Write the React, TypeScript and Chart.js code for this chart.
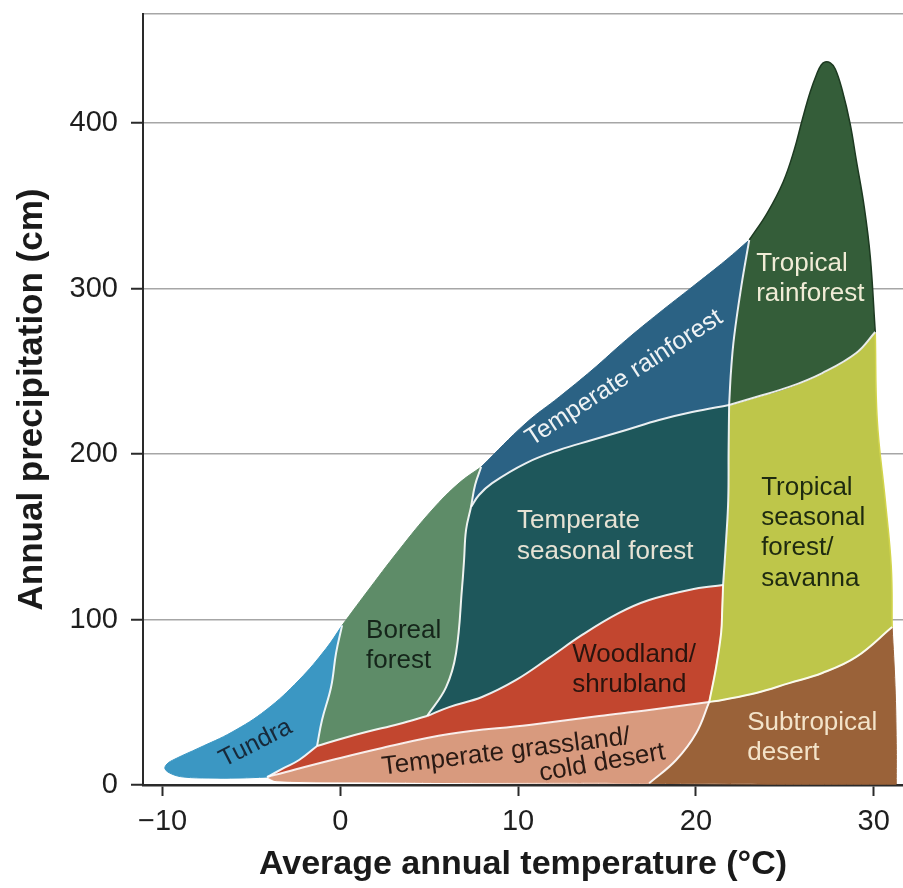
import React, { useEffect, useRef } from "react";
import { Chart, registerables } from "chart.js";

Chart.register(...registerables);

type P = [number, number];

// ---------- axes ----------
const xTickValues = [-10, 0, 10, 20, 30];
const yTickValues = [0, 100, 200, 300, 400];
const xRange = [-11.1, 31.65];
const yRange = [0, 466];
const xTitle = "Average annual temperature (°C)";
const yTitle = "Annual precipitation (cm)";

// ---------- biome boundary curves: [temperature °C, precipitation cm] ----------
const tundraOuter: P[] = [[-4.12, 4.8], [-5.7, 4.2], [-7.39, 4.2], [-8.8, 4.8], [-9.47, 6.6], [-9.86, 9.7], [-9.75, 12.7], [-9.3, 15.7], [-7.95, 22.4], [-6.09, 32.0], [-4.18, 45.3], [-2.32, 63.5], [-0.8, 82.5], [0.1, 96.5]];
const tundraBoreal: P[] = [[0.1, 96.5], [-0.24, 79.8], [-0.52, 59.2], [-1.03, 39.3], [-1.31, 23.6]];
const redTundra: P[] = [[-1.31, 23.6], [-2.32, 15.1], [-3.17, 10.3], [-4.12, 4.8]];
const borealOuter: P[] = [[0.1, 96.5], [1.45, 116.0], [3.3, 142.0], [5.16, 166.2], [6.68, 182.5], [7.92, 192.2]];
const borealTempRF: P[] = [[7.92, 192.2], [7.58, 181.3], [7.35, 168.0]];
const borealSeasonal: P[] = [[7.35, 168.0], [7.07, 154.1], [6.96, 136.0], [6.85, 119.7], [6.51, 79.8], [5.95, 59.2], [4.88, 41.7]];
const redBoreal: P[] = [[-1.31, 23.6], [0.21, 28.4], [1.45, 32.0], [3.3, 36.9], [4.88, 41.7]];
const redSeasonal: P[] = [[4.88, 41.7], [6.12, 47.1], [7.97, 53.2], [9.89, 63.5], [11.74, 76.8], [13.6, 90.7], [15.68, 104.0], [17.37, 111.8], [19.62, 117.9], [21.53, 120.9]];
const redYellow: P[] = [[21.53, 120.9], [21.48, 105.8], [21.42, 91.9], [21.14, 71.3], [20.75, 50.2]];
const redSalmon: P[] = [[-4.12, 4.8], [-3.06, 7.9], [-0.47, 15.1], [2.35, 22.4], [6.12, 30.8], [10.62, 36.3], [14.56, 41.7], [17.37, 45.3], [20.75, 50.2]];
const salmonBrown: P[] = [[20.75, 50.2], [20.02, 31.4], [18.89, 15.1], [17.37, 1.0]];
const salmonBottom: P[] = [[17.37, 1.0], [10, 1.3], [2, 1.8], [-3.6, 2.6], [-4.12, 4.8]];
const yellowBrown: P[] = [[20.75, 50.2], [21.48, 51.4], [23.39, 55.6], [25.25, 61.6], [27.11, 67.7], [29.02, 77.4], [31.04, 95.5]];
const brownRight: P[] = [[31.04, 95.5], [31.2, 60], [31.27, 25], [31.27, 0.5]];
const brownBottom: P[] = [[31.27, 0.5], [24, 0.5], [17.37, 1.0]];
const yellowRight: P[] = [[30.09, 273.8], [30.2, 220.6], [30.65, 172.3], [30.99, 131.8], [31.04, 95.5]];
const tropYellow: P[] = [[21.87, 229.7], [23.39, 234.5], [25.25, 240.6], [27.11, 249.0], [29.02, 261.1], [30.09, 273.8]];
const yellowSeasonal: P[] = [[21.87, 229.7], [21.84, 202.5], [21.82, 172.3], [21.7, 148.1], [21.53, 120.9]];
const tropOuter: P[] = [[23.0, 329.4], [24.01, 345.7], [24.91, 364.5], [25.53, 383.8], [25.98, 401.9], [26.43, 418.8], [26.82, 430.3], [27.05, 435.2], [27.27, 437.0], [27.56, 436.4], [27.84, 432.8], [28.23, 420.1], [28.68, 399.5], [29.02, 377.8], [29.47, 349.3], [29.81, 319.1], [30.09, 273.8]];
const tempRFTrop: P[] = [[23.0, 329.4], [22.55, 301.0], [22.15, 270.8], [21.98, 250.8], [21.87, 229.7]];
const tempRFOuter: P[] = [[7.92, 192.2], [10.45, 218.8], [12.31, 234.5], [14.16, 250.8], [16.08, 269.0], [17.93, 285.3], [19.79, 301.0], [21.7, 317.3], [23.0, 329.4]];
const tempRFSeasonal: P[] = [[7.35, 168.0], [7.8, 175.3], [8.54, 182.5], [10.45, 194.6], [12.31, 202.5], [14.16, 208.5], [16.08, 214.6], [17.93, 220.6], [19.79, 225.4], [21.87, 229.7]];

// ---------- biomes ----------
const biomeNames = [
  "Tundra", "Boreal forest", "Temperate rainforest", "Temperate seasonal forest",
  "Tropical rainforest", "Tropical seasonal forest/savanna", "Woodland/shrubland",
  "Temperate grassland/cold desert", "Subtropical desert",
];
const biomeColors = ["#3b97c3", "#5e8c68", "#2b6284", "#1e575b", "#345d39", "#bec64a", "#c2462f", "#d89a7e", "#9a6239"];

const rev = (a: P[]): P[] => a.slice().reverse();
// junction points are kept doubled so each boundary is smoothed exactly as its own edge line
const chain = (...parts: P[][]): P[] => parts.reduce((acc: P[], p) => acc.concat(p), []);

const biomeShapes: P[][] = [
  chain(tundraOuter, tundraBoreal, redTundra),
  chain(borealOuter, borealTempRF, borealSeasonal, rev(redBoreal), rev(tundraBoreal)),
  chain(tempRFOuter, tempRFTrop, rev(tempRFSeasonal), rev(borealTempRF)),
  chain(tempRFSeasonal, yellowSeasonal, rev(redSeasonal), rev(borealSeasonal)),
  chain(tropOuter, rev(tropYellow), rev(tempRFTrop)),
  chain(tropYellow, yellowRight, rev(yellowBrown), rev(redYellow), rev(yellowSeasonal)),
  chain(rev(redTundra), redBoreal, redSeasonal, redYellow, rev(redSalmon)),
  chain(redSalmon, salmonBrown, salmonBottom),
  chain(yellowBrown, brownRight, brownBottom, rev(salmonBrown)),
];

const internalEdges: P[][] = [
  tundraBoreal, redTundra, redBoreal, borealTempRF, borealSeasonal, tempRFSeasonal, tempRFTrop,
  redSeasonal, redYellow, yellowSeasonal, tropYellow, yellowBrown, redSalmon, salmonBrown,
];

// ---------- in-plot labels ----------
const labelTexts = [
  "Tundra", "Boreal\nforest", "Temperate rainforest", "Temperate\nseasonal forest",
  "Tropical\nrainforest", "Tropical\nseasonal\nforest/\nsavanna", "Woodland/\nshrubland",
  "Temperate grassland/", "cold desert", "Subtropical\ndesert",
];
const labelLayout = [
  { x: -4.76, y: 25.2, align: "center", rot: -27, color: "#17293a", size: 25 },
  { x: 1.45, y: 84.0, align: "left", rot: 0, color: "#15251a", size: 26 },
  { x: 15.96, y: 246.0, align: "center", rot: -33, color: "#eef2f4", size: 25 },
  { x: 9.94, y: 150.2, align: "left", rot: 0, color: "#e6e2d4", size: 26 },
  { x: 23.39, y: 306.1, align: "left", rot: 0, color: "#f0ecd6", size: 26 },
  { x: 23.67, y: 152.3, align: "left", rot: 0, color: "#1e2a10", size: 26 },
  { x: 13.04, y: 69.5, align: "left", rot: 0, color: "#2a140e", size: 26 },
  { x: 9.32, y: 19.9, align: "center", rot: -7, color: "#2a1a14", size: 26 },
  { x: 14.73, y: 13.3, align: "center", rot: -10, color: "#2a1a14", size: 26 },
  { x: 22.89, y: 28.4, align: "left", rot: 0, color: "#f3e3c9", size: 26 },
];

const FONT = '"Liberation Sans", Arial, Helvetica, sans-serif';
const TENSION = 0.4;

const labelPlugin = {
  id: "biomeLabels",
  afterDatasetsDraw(chart: any) {
    const { ctx, scales } = chart;
    const xs = scales.x;
    const ys = scales.y;
    ctx.save();
    labelTexts.forEach((text, i) => {
      const L = labelLayout[i];
      const lines = text.split("\n");
      const lh = L.size * 1.17;
      ctx.save();
      ctx.translate(xs.getPixelForValue(L.x), ys.getPixelForValue(L.y));
      ctx.rotate((L.rot * Math.PI) / 180);
      ctx.font = `${L.size}px ${FONT}`;
      ctx.fillStyle = L.color;
      ctx.textAlign = L.align as CanvasTextAlign;
      ctx.textBaseline = "middle";
      const y0 = -((lines.length - 1) * lh) / 2;
      lines.forEach((ln, k) => ctx.fillText(ln, 0, y0 + k * lh));
      ctx.restore();
    });
    ctx.restore();
  },
};

export default function App() {
  const ref = useRef<HTMLCanvasElement>(null);

  useEffect(() => {
    if (!ref.current) return;
    const toXY = (pts: P[]) => pts.map(([x, y]) => ({ x, y }));
    const polyDatasets = biomeShapes.map((shape, i) => ({
      label: biomeNames[i],
      data: toXY(shape),
      backgroundColor: biomeColors[i],
      borderColor: i === 4 ? "#1d3a21" : i === 5 ? "#d2d44c" : biomeColors[i],
      borderWidth: i === 4 || i === 5 ? 1.5 : 1,
      fill: "shape",
      pointRadius: 0,
      tension: TENSION,
      order: 2,
    }));
    const edgeDatasets = internalEdges.map((edge, i) => ({
      label: "edge" + i,
      data: toXY(edge),
      borderColor: "rgba(255,255,255,0.9)",
      borderWidth: 2,
      fill: false,
      pointRadius: 0,
      tension: TENSION,
      order: 1,
    }));

    const chart = new Chart(ref.current, {
      type: "line",
      data: { datasets: [...edgeDatasets, ...polyDatasets] as any },
      options: {
        animation: false,
        responsive: false,
        devicePixelRatio: 1,
        events: [],
        layout: { padding: { top: 14, left: 0, right: 0, bottom: 0 } },
        plugins: { legend: { display: false }, tooltip: { enabled: false } },
        scales: {
          x: {
            type: "linear",
            min: xRange[0],
            max: xRange[1],
            afterBuildTicks: (s: any) => {
              s.ticks = xTickValues.map((v) => ({ value: v }));
            },
            ticks: {
              font: { family: FONT, size: 29 },
              color: "#1e1e1e",
              padding: 9,
              maxRotation: 0,
              autoSkip: false,
              callback: (v: any) => (v < 0 ? "\u2212" + Math.abs(v) : String(v)),
            },
            grid: { drawOnChartArea: false, drawTicks: true, tickLength: 11, tickColor: "#2a2a2a", tickWidth: 2, color: "#2a2a2a" },
            border: { display: true, color: "#2a2a2a", width: 2.5 },
            title: {
              display: true,
              text: xTitle,
              font: { family: FONT, size: 34, weight: "bold" },
              color: "#1a1a1a",
              padding: { top: 0, bottom: 3 },
            },
            afterFit: (s: any) => {
              s.height = 103;
              s.paddingLeft = 0;
              s.paddingRight = 0;
            },
          },
          xTop: {
            type: "linear",
            position: "top",
            min: xRange[0],
            max: xRange[1],
            ticks: { display: false },
            grid: { drawOnChartArea: false, drawTicks: false },
            border: { display: true, color: "#a6a6a6", width: 1.5 },
            afterFit: (s: any) => {
              s.height = 0;
              s.paddingLeft = 0;
              s.paddingRight = 0;
            },
          },
          y: {
            type: "linear",
            min: yRange[0],
            max: yRange[1],
            afterBuildTicks: (s: any) => {
              s.ticks = yTickValues.map((v) => ({ value: v }));
            },
            ticks: {
              font: { family: FONT, size: 29 },
              color: "#1e1e1e",
              padding: 13,
              callback: (v: any) => String(v),
            },
            grid: {
              color: (c: any) => (c.tick && c.tick.value === 0 ? "rgba(0,0,0,0)" : "#a6a6a6"),
              lineWidth: 1.5,
              tickLength: 12,
              tickColor: "#2a2a2a",
              tickWidth: 2,
            },
            border: { display: true, color: "#2a2a2a", width: 2 },
            title: {
              display: true,
              text: yTitle,
              font: { family: FONT, size: 35, weight: "bold" },
              color: "#1a1a1a",
              padding: { top: 11, bottom: 0 },
            },
            afterFit: (s: any) => {
              s.width = 143;
              s.paddingTop = 0;
              s.paddingBottom = 0;
            },
          },
        },
      } as any,
      plugins: [labelPlugin],
    });
    return () => chart.destroy();
  }, []);

  return (
    <div style={{ position: "absolute", left: 0, top: 0, width: 903, height: 888, background: "#fff" }}>
      <canvas ref={ref} width={903} height={888} style={{ display: "block", width: 903, height: 888 }} />
    </div>
  );
}
